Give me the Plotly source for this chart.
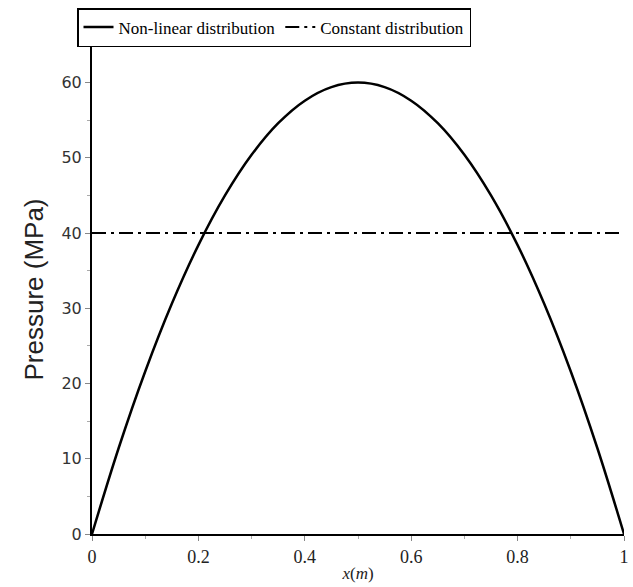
import plotly.graph_objects as go

x_vals = [0.0, 0.05, 0.1, 0.15, 0.2, 0.25, 0.3, 0.35, 0.4, 0.45, 0.5,
          0.55, 0.6, 0.65, 0.7, 0.75, 0.8, 0.85, 0.9, 0.95, 1.0]
nonlinear = [0.0, 11.4, 21.6, 30.6, 38.4, 45.0, 50.4, 54.6, 57.6, 59.4, 60.0,
             59.4, 57.6, 54.6, 50.4, 45.0, 38.4, 30.6, 21.6, 11.4, 0.0]
const_x = [0.0, 1.0]
constant = [40.0, 40.0]

x_ticks = [0, 0.2, 0.4, 0.6, 0.8, 1]
x_tick_text = ["0", "0.2", "0.4", "0.6", "0.8", "1"]
y_ticks = [0, 10, 20, 30, 40, 50, 60]

fig = go.Figure()
fig.add_trace(go.Scatter(x=x_vals, y=nonlinear, mode="lines", name="Non-linear distribution",
                         line=dict(color="black", width=2.5, shape="spline", smoothing=1.0)))
fig.add_trace(go.Scatter(x=const_x, y=constant, mode="lines", name="Constant distribution",
                         line=dict(color="black", width=2, dash="14px,5px,3px,5px")))

fig.update_layout(
    width=633, height=587,
    margin=dict(l=92, r=9, t=45, b=53, autoexpand=False),
    paper_bgcolor="white", plot_bgcolor="white",
    showlegend=True,
    legend=dict(orientation="h", x=77/633, y=1 - 8/587, xref="container", yref="container",
                xanchor="left", yanchor="top",
                bordercolor="black", borderwidth=1.5,
                font=dict(family="Liberation Serif", size=17, color="black"),
                itemwidth=30, tracegroupgap=0,
                bgcolor="white"),
    xaxis=dict(range=[0, 1], tickvals=x_ticks, ticktext=x_tick_text,
               showgrid=False, zeroline=False, showline=True, linecolor="black", linewidth=2,
               ticks="outside", ticklen=5, tickcolor="#888",
               minor=dict(dtick=0.1, ticks="outside", ticklen=3, tickcolor="#aaa"),
               tickfont=dict(family="Liberation Serif", size=18, color="#222"),
               title=dict(text="<i>x</i>(<i>m</i>)", standoff=2,
                          font=dict(family="Liberation Serif", size=17, color="#222"))),
    yaxis=dict(range=[0, 65], tickvals=y_ticks,
               showgrid=False, zeroline=False, showline=True, linecolor="black", linewidth=2,
               ticks="outside", ticklen=5, tickcolor="#888",
               minor=dict(dtick=5, ticks="outside", ticklen=3, tickcolor="#aaa"),
               tickfont=dict(family="DejaVu Sans", size=16, color="#333"),
               title=dict(text="Pressure (MPa)", standoff=10,
                          font=dict(family="Liberation Sans", size=26, color="#222"))),
)

fig.write_html("out.html")
